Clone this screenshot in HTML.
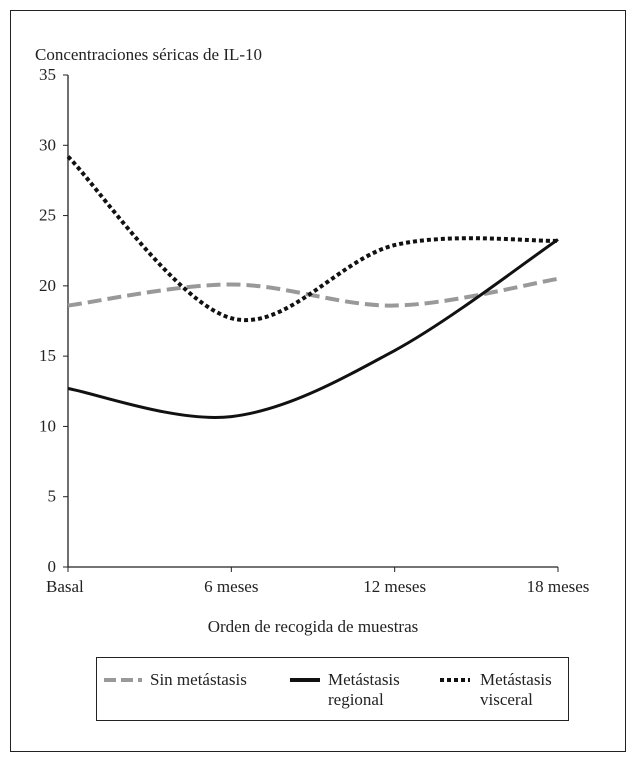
<!DOCTYPE html>
<html><head><meta charset="utf-8"><style>
body{margin:0;background:#fff;}
svg text{font-family:"Liberation Serif",serif;fill:#222;}
</style></head><body>
<svg width="636" height="764" xmlns="http://www.w3.org/2000/svg">
<rect x="10.5" y="10.5" width="615" height="741" fill="none" stroke="#222" stroke-width="1"/>
<text x="35" y="60" font-size="17">Concentraciones séricas de IL-10</text>
<g id="axes"></g>
<g id="series"></g>
<text x="313" y="632" font-size="17" text-anchor="middle">Orden de recogida de muestras</text>
<g>
<rect x="96.5" y="657.5" width="472" height="63" fill="none" stroke="#222"/>
<line x1="104" y1="680" x2="142" y2="680" stroke="#999" stroke-width="4" stroke-dasharray="12,5"/>
<text x="150" y="685" font-size="17">Sin metástasis</text>
<line x1="290" y1="680" x2="320" y2="680" stroke="#111" stroke-width="4"/>
<text x="328" y="685" font-size="17">Metástasis</text>
<text x="328" y="705" font-size="17">regional</text>
<line x1="440" y1="680" x2="470" y2="680" stroke="#111" stroke-width="4" stroke-dasharray="4,3"/>
<text x="480" y="685" font-size="17">Metástasis</text>
<text x="480" y="705" font-size="17">visceral</text>
</g>
</svg>
<script>
const categories=["Basal","6 meses","12 meses","18 meses"];
const yTicks=[0,5,10,15,20,25,30,35];
const sinMetastasis=[18.6,20.1,18.6,20.5];
const metRegional=[12.7,10.7,15.4,23.3];
const metVisceral=[29.2,17.7,22.9,23.2];
const NS="http://www.w3.org/2000/svg";
const x0=68,x1=558,y0=567,y1=75;
function xs(i){return x0+(x1-x0)*i/(categories.length-1);}
function ys(v){return y0-(y0-y1)*v/35;}
function mk(tag,attrs,parent){const e=document.createElementNS(NS,tag);for(const k in attrs)e.setAttribute(k,attrs[k]);parent.appendChild(e);return e;}
const ax=document.getElementById('axes');
let l=mk('line',{x1:x0,y1:y1,x2:x0,y2:y0,stroke:'#222','stroke-width':1.3},ax);


l=mk('line',{x1:x0,y1:y0,x2:x1,y2:y0,stroke:'#222','stroke-width':1.3},ax);


yTicks.forEach(v=>{
 const t=mk('line',{x1:x0-5,x2:x0,y1:ys(v),y2:ys(v),stroke:'#222'},ax);
 
 
 const tx=mk('text',{x:x0-12,y:ys(v)+5,'font-size':17,'text-anchor':'end'},ax);
 tx.textContent=v;
 
 
});
categories.forEach((c,i)=>{
 const t=mk('line',{x1:xs(i),x2:xs(i),y1:y0,y2:y0+5,stroke:'#222'},ax);
 
 
 const tx=mk('text',{x:i==0?46:xs(i),y:y0+25,'font-size':17,'text-anchor':i==0?'start':'middle'},ax);
 tx.textContent=c;
 
 
});
function path(vals){
 const p=vals.map((v,i)=>[xs(i),ys(v)]);
 let d='M'+p[0][0]+','+p[0][1];
 for(let i=0;i<p.length-1;i++){
  const a=p[Math.max(0,i-1)],b=p[i],c=p[i+1],e=p[Math.min(p.length-1,i+2)];
  const c1=[b[0]+(c[0]-a[0])/6,b[1]+(c[1]-a[1])/6],c2=[c[0]-(e[0]-b[0])/6,c[1]-(e[1]-b[1])/6];
  d+=' C'+c1+' '+c2+' '+c;
 }
 return d;
}
const sg=document.getElementById('series');
let s=mk('path',{d:path(sinMetastasis),fill:'none',stroke:'#999','stroke-width':4,'stroke-dasharray':'14,6'},sg);


s=mk('path',{d:path(metRegional),fill:'none',stroke:'#111','stroke-width':3},sg);


s=mk('path',{d:path(metVisceral),fill:'none',stroke:'#111','stroke-width':4,'stroke-dasharray':'4,3'},sg);


</script>
</body></html>
